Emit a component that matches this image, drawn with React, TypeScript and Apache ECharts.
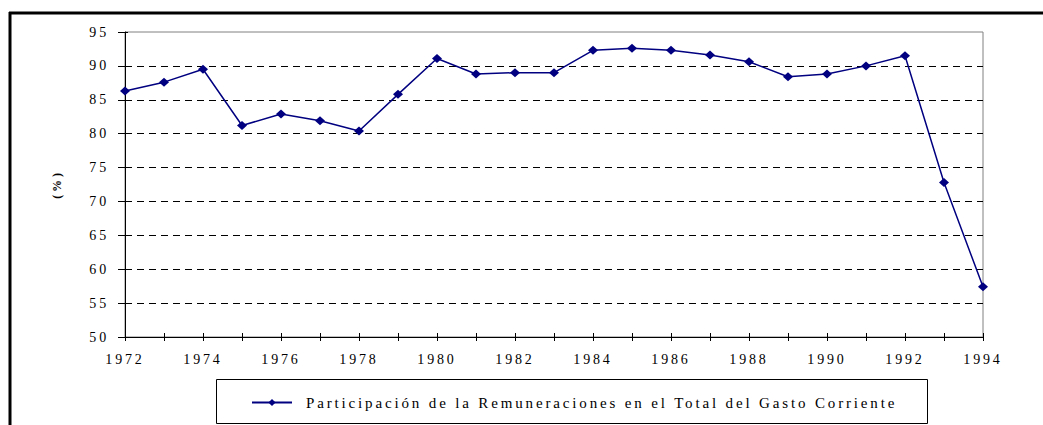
import React, { useEffect, useRef } from "react";
import * as echarts from "echarts";

const years = [
  "1972", "1973", "1974", "1975", "1976", "1977", "1978", "1979", "1980", "1981", "1982", "1983",
  "1984", "1985", "1986", "1987", "1988", "1989", "1990", "1991", "1992", "1993", "1994",
];
const participacion = [
  86.3, 87.6, 89.5, 81.2, 82.9, 81.9, 80.4, 85.8, 91.1, 88.8, 89.0, 89.0,
  92.3, 92.6, 92.3, 91.6, 90.6, 88.4, 88.8, 90.0, 91.5, 72.8, 57.4,
];
const seriesName = "Participación de la Remuneraciones en el Total del Gasto Corriente";
const yAxisName = "(%)";

const FONT = "Times New Roman, serif";

export default function App() {
  const ref = useRef<HTMLDivElement>(null);
  useEffect(() => {
    if (!ref.current) return;
    const chart = echarts.init(ref.current, undefined, { renderer: "svg" });
    chart.setOption({
      animation: false,
      backgroundColor: "#ffffff",
      textStyle: { fontFamily: FONT },
      grid: {
        left: 125,
        top: 32,
        right: 60,
        bottom: 88,
        show: true,
        borderColor: "#808080",
        borderWidth: 1,
        backgroundColor: "transparent",
      },
      legend: {
        show: true,
        left: 251,
        top: 395,
        itemWidth: 40,
        itemHeight: 9,
        itemGap: 10,
        padding: 0,
        textStyle: { fontFamily: FONT, fontSize: 15, color: "#000", padding: [0, 0, 0, 9] },
        data: [seriesName],
      },
      xAxis: [
        {
          type: "category",
          data: years,
          boundaryGap: false,
          axisLine: { show: true, lineStyle: { color: "#000", width: 1 } },
          axisTick: { show: true, inside: true, length: 4, interval: 0, lineStyle: { color: "#000" } },
          axisLabel: { interval: 1, margin: 15, fontFamily: FONT, fontSize: 14, color: "#000" },
          splitLine: { show: false },
        },
        {
          type: "category",
          data: years,
          boundaryGap: false,
          position: "bottom",
          offset: 0,
          axisLine: { show: false },
          axisTick: { show: true, inside: false, length: 4, interval: 0, lineStyle: { color: "#000" } },
          axisLabel: { show: false },
          splitLine: { show: false },
        },
      ],
      yAxis: [
        {
          type: "value",
          min: 50,
          max: 95,
          interval: 5,
          name: yAxisName,
          nameLocation: "middle",
          nameGap: 62,
          nameRotate: 90,
          nameTextStyle: { fontFamily: FONT, fontSize: 12, fontWeight: "bold", color: "#000" },
          axisLine: { show: true, lineStyle: { color: "#000", width: 1 } },
          axisTick: { show: true, inside: false, length: 7, lineStyle: { color: "#000" } },
          axisLabel: { margin: 16, fontFamily: FONT, fontSize: 14, color: "#000" },
          splitLine: {
            show: true,
            showMinLine: false,
            showMaxLine: false,
            lineStyle: { color: "#000", width: 1, type: [7, 5] },
          },
        },
        {
          type: "value",
          min: 50,
          max: 95,
          interval: 5,
          position: "left",
          offset: 0,
          axisLine: { show: false },
          axisTick: { show: true, inside: true, length: 3, lineStyle: { color: "#000" } },
          axisLabel: { show: false },
          splitLine: { show: false },
        },
      ],
      series: [
        {
          name: seriesName,
          type: "line",
          data: participacion,
          xAxisIndex: 0,
          yAxisIndex: 0,
          symbol: "diamond",
          symbolSize: [10, 9],
          showAllSymbol: true,
          lineStyle: { color: "#000080", width: 1.5 },
          itemStyle: { color: "#000080" },
        },
      ],
      graphic: [
        {
          type: "line",
          shape: { x1: 9, y1: 13, x2: 1043, y2: 13 },
          style: { stroke: "#000", lineWidth: 3 },
          silent: true,
        },
        {
          type: "line",
          shape: { x1: 10, y1: 12, x2: 10, y2: 425 },
          style: { stroke: "#000", lineWidth: 3 },
          silent: true,
        },
        {
          type: "rect",
          shape: { x: 216.5, y: 379.5, width: 711, height: 44 },
          style: { fill: "transparent", stroke: "#000", lineWidth: 1 },
          silent: true,
        },
      ],
    });
    return () => chart.dispose();
  }, []);
  return (
    <div
      ref={ref}
      style={{ position: "absolute", left: 0, top: 0, width: 1043, height: 425, letterSpacing: "2.85px" }}
    />
  );
}
